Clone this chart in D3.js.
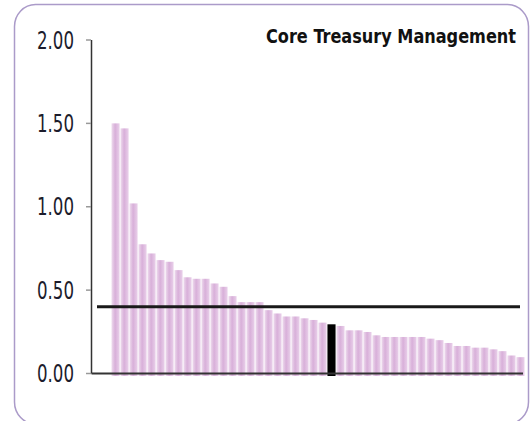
<!DOCTYPE html>
<meta charset="utf-8">
<style>
body { margin: 0; background: white; }
svg { display: block; }
.tick-label { font-family: "DejaVu Sans Condensed", "DejaVu Sans", sans-serif; font-size: 24px; fill: #1c1c2c; }
.title { font-family: "DejaVu Sans Condensed", "DejaVu Sans", sans-serif; font-size: 19px; font-weight: bold; fill: #111; }
</style>
<svg width="531" height="421"></svg>
<script src="https://d3js.org/d3.v7.min.js"></script>
<script>
// values, sorted high to low
var values = [1.50, 1.47, 1.02, 0.775, 0.72, 0.68, 0.67, 0.62, 0.577, 0.568, 0.568, 0.54, 0.52,
  0.464, 0.428, 0.428, 0.428, 0.38, 0.36, 0.342, 0.342, 0.331, 0.321, 0.305, 0.295, 0.285,
  0.259, 0.259, 0.249, 0.229, 0.219, 0.219, 0.219, 0.219, 0.219, 0.209, 0.20, 0.183, 0.165,
  0.165, 0.155, 0.155, 0.145, 0.134, 0.108, 0.098];
var highlight = 24;          // index of the black bar
var refValue = 0.40;         // horizontal reference line
var yTicks = [0, 0.5, 1, 1.5, 2];
var title = "Core Treasury Management";

var svg = d3.select("svg");

// rounded frame
svg.append("rect")
    .attr("x", 14.5).attr("y", 4.5)
    .attr("width", 514).attr("height", 419.5)
    .attr("rx", 21).attr("ry", 22)
    .attr("fill", "none")
    .attr("stroke", "#ab9bc9")
    .attr("stroke-width", 1.5);

var y = d3.scaleLinear().domain([0, 2]).range([373.5, 40]);
var x = d3.scaleBand()
    .domain(d3.range(values.length))
    .range([111.5, 524.5])
    .paddingInner(0.1);

var defs = svg.append("defs");
var grad = defs.append("linearGradient").attr("id", "barGrad")
    .attr("x1", "0%").attr("x2", "100%").attr("y1", "0%").attr("y2", "0%");
grad.append("stop").attr("offset", "0%").attr("stop-color", "#eedcee");
grad.append("stop").attr("offset", "45%").attr("stop-color", "#d8afd9");
grad.append("stop").attr("offset", "100%").attr("stop-color", "#e9d0ea");

svg.append("g").selectAll("rect")
    .data(values)
  .enter().append("rect")
    .attr("x", function(d, i) { return x(i); })
    .attr("width", x.bandwidth())
    .attr("y", function(d) { return y(d); })
    .attr("height", function(d) { return y(0) - y(d) + 2.5; })
    .attr("fill", function(d, i) { return i === highlight ? "#000" : "url(#barGrad)"; });

// y axis line + baseline
svg.append("line")
    .attr("x1", 91.5).attr("x2", 91.5)
    .attr("y1", y(2)).attr("y2", y(0))
    .attr("stroke", "#333").attr("stroke-width", 1.5);

svg.append("line")
    .attr("x1", 91.5).attr("x2", 523)
    .attr("y1", y(0)).attr("y2", y(0))
    .attr("stroke", "#333").attr("stroke-width", 2);

var ticks = svg.append("g");
ticks.selectAll("line")
    .data(yTicks)
  .enter().append("line")
    .attr("x1", 86).attr("x2", 91)
    .attr("y1", function(d) { return y(d); })
    .attr("y2", function(d) { return y(d); })
    .attr("stroke", "#999").attr("stroke-width", 1.5);

ticks.selectAll("text")
    .data(yTicks)
  .enter().append("text")
    .attr("class", "tick-label")
    .attr("x", 74)
    .attr("y", function(d) { return y(d) + 8.5; })
    .attr("text-anchor", "end")
    .attr("textLength", 37)
    .attr("lengthAdjust", "spacingAndGlyphs")
    .text(function(d) { return d3.format(".2f")(d); });

// reference line
svg.append("line")
    .attr("x1", 97).attr("x2", 520)
    .attr("y1", y(refValue)).attr("y2", y(refValue))
    .attr("stroke", "#1a1a1a").attr("stroke-width", 3);

svg.append("text")
    .attr("class", "title")
    .attr("x", 516)
    .attr("y", 43)
    .attr("text-anchor", "end")
    .attr("textLength", 250)
    .attr("lengthAdjust", "spacingAndGlyphs")
    .text(title);
</script>
